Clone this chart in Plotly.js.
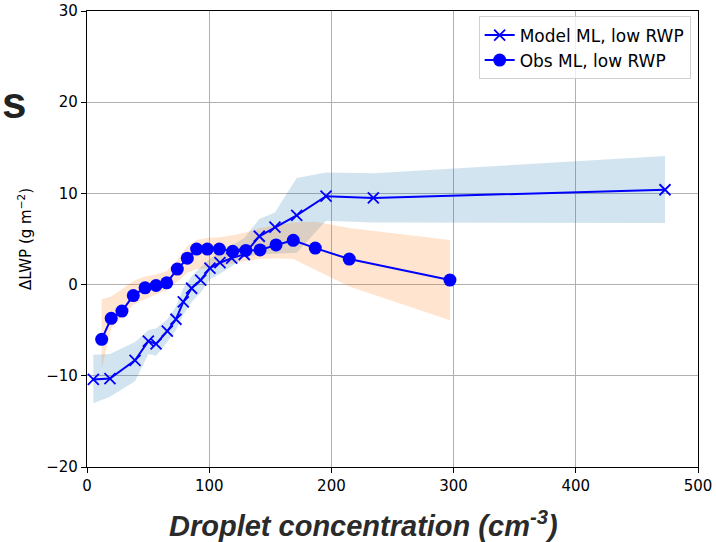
<!DOCTYPE html>
<html>
<head>
<meta charset="utf-8">
<script src="https://cdn.plot.ly/plotly-3.0.1.min.js"></script>
<style>html,body{margin:0;padding:0;background:#fff;}#chart{width:716px;height:542px;}</style>
</head>
<body>
<div id="chart"></div>
<script>
// Model ML, low RWP
const modelX = [5.2, 18.8, 39.3, 50.2, 56.5, 65.7, 72.8, 78.8, 85.6, 93, 100.6, 108.8, 118.4, 128.7, 141, 153.8, 171.6, 195.6, 234.3, 473];
const modelY = [-10.4, -10.3, -8.3, -6.2, -6.5, -5.1, -3.8, -1.9, -0.4, 0.5, 1.8, 2.4, 2.9, 3.3, 5.3, 6.3, 7.6, 9.7, 9.5, 10.4];
const modelLow = [-13.0, -12.3, -10.6, -7.6, -7.8, -6.3, -5.0, -3.3, -1.9, -0.9, 0.6, 1.2, 2.0, 3.0, 3.3, 3.4, 3.5, 7.0, 6.8, 6.75];
const modelHigh = [-7.7, -7.6, -6.3, -5.0, -4.8, -3.8, -2.4, -0.4, 0.9, 1.9, 2.8, 3.6, 4.3, 5.1, 7.2, 7.9, 11.7, 12.3, 12.2, 14.1];

// Obs ML, low RWP
const obsX = [12, 19.8, 28.6, 37.9, 47.5, 56.5, 65.2, 73.9, 82.1, 89.7, 98.5, 108.3, 119.2, 130, 141.6, 154.7, 168.8, 186.8, 214.6, 297];
const obsY = [-6.0, -3.7, -2.9, -1.2, -0.35, -0.1, 0.2, 1.7, 2.9, 3.9, 3.9, 3.9, 3.65, 3.75, 3.8, 4.35, 4.85, 4.0, 2.8, 0.5];
const obsLow = [-9.2, -4.8, -3.5, -2.2, -1.6, -1.1, -0.6, 0.3, 1.3, 1.7, 1.8, 2.0, 2.3, 2.6, 2.8, 2.9, 2.8, 1.6, -0.2, -3.9];
const obsHigh = [-1.6, -1.3, -0.5, 0.4, 0.9, 1.1, 1.5, 2.7, 4.2, 4.9, 5.1, 5.2, 5.4, 5.7, 6.2, 6.5, 6.8, 6.9, 6.2, 4.9];

const xTicks = [0, 100, 200, 300, 400, 500];
const yTicks = [-20, -10, 0, 10, 20, 30];

const traces = [
  {x: modelX, y: modelLow, mode: 'lines', line: {width: 0}, hoverinfo: 'skip', showlegend: false},
  {x: modelX, y: modelHigh, mode: 'lines', line: {width: 0}, fill: 'tonexty', fillcolor: 'rgba(31,119,180,0.2)', hoverinfo: 'skip', showlegend: false},
  {x: obsX, y: obsLow, mode: 'lines', line: {width: 0}, hoverinfo: 'skip', showlegend: false},
  {x: obsX, y: obsHigh, mode: 'lines', line: {width: 0}, fill: 'tonexty', fillcolor: 'rgba(255,127,14,0.2)', hoverinfo: 'skip', showlegend: false},
  {x: modelX, y: modelY, mode: 'lines+markers', name: 'Model ML, low RWP',
   line: {color: '#0000ff', width: 2},
   marker: {symbol: 'x-thin', size: 11, color: '#0000ff', line: {color: '#0000ff', width: 1.8}}},
  {x: obsX, y: obsY, mode: 'lines+markers', name: 'Obs ML, low RWP',
   line: {color: '#0000ff', width: 2},
   marker: {symbol: 'circle', size: 13, color: '#0000ff'}}
];

const layout = {
  width: 716, height: 542,
  margin: {l: 87, r: 18, t: 11, b: 75},
  paper_bgcolor: '#ffffff', plot_bgcolor: '#ffffff',
  font: {family: 'DejaVu Sans, sans-serif', color: '#000000', size: 15},
  showlegend: true,
  legend: {x: 0.988, y: 0.988, xanchor: 'right', yanchor: 'top', traceorder: 'normal',
    bgcolor: 'rgba(255,255,255,0.8)', bordercolor: '#d0d0d0', borderwidth: 1,
    font: {size: 17, family: 'DejaVu Sans, sans-serif'}, tracegroupgap: 0},
  xaxis: {range: [0, 500], tickvals: xTicks, ticktext: xTicks.map(String),
    showgrid: true, gridcolor: '#b0b0b0', gridwidth: 1, zeroline: false,
    showline: true, linecolor: '#000', linewidth: 1.2, mirror: true,
    ticks: 'outside', ticklen: 5, tickcolor: '#000',
    tickfont: {size: 15}},
  yaxis: {range: [-20, 30], tickvals: yTicks, ticktext: yTicks.map(v => v < 0 ? '\u2212' + Math.abs(v) : String(v)),
    showgrid: true, gridcolor: '#b0b0b0', gridwidth: 1, zeroline: false,
    showline: true, linecolor: '#000', linewidth: 1.2, mirror: true,
    ticks: 'outside', ticklen: 5, tickcolor: '#000',
    tickfont: {size: 15},
    title: {text: '\u0394LWP (g m<sup>\u22122</sup>)', standoff: 10, font: {size: 15}}},
  annotations: [
    {text: '<b><i>Droplet concentration (cm<sup>-3</sup>)</i></b>', xref: 'paper', yref: 'paper',
     x: 0.452, y: -0.125, xanchor: 'center', yanchor: 'middle', showarrow: false,
     font: {family: 'Liberation Sans Narrow, Liberation Sans, Arial, sans-serif', size: 29, color: '#2a2a2a'}},
    {text: '<b>s</b>', xref: 'paper', yref: 'paper', x: -0.1424, y: 0.80, xanchor: 'left', yanchor: 'middle',
     showarrow: false, font: {family: 'Liberation Sans, Arial, sans-serif', size: 44, color: '#222'}}
  ]
};

Plotly.newPlot('chart', traces, layout, {displayModeBar: false, staticPlot: true});
</script>
</body>
</html>
